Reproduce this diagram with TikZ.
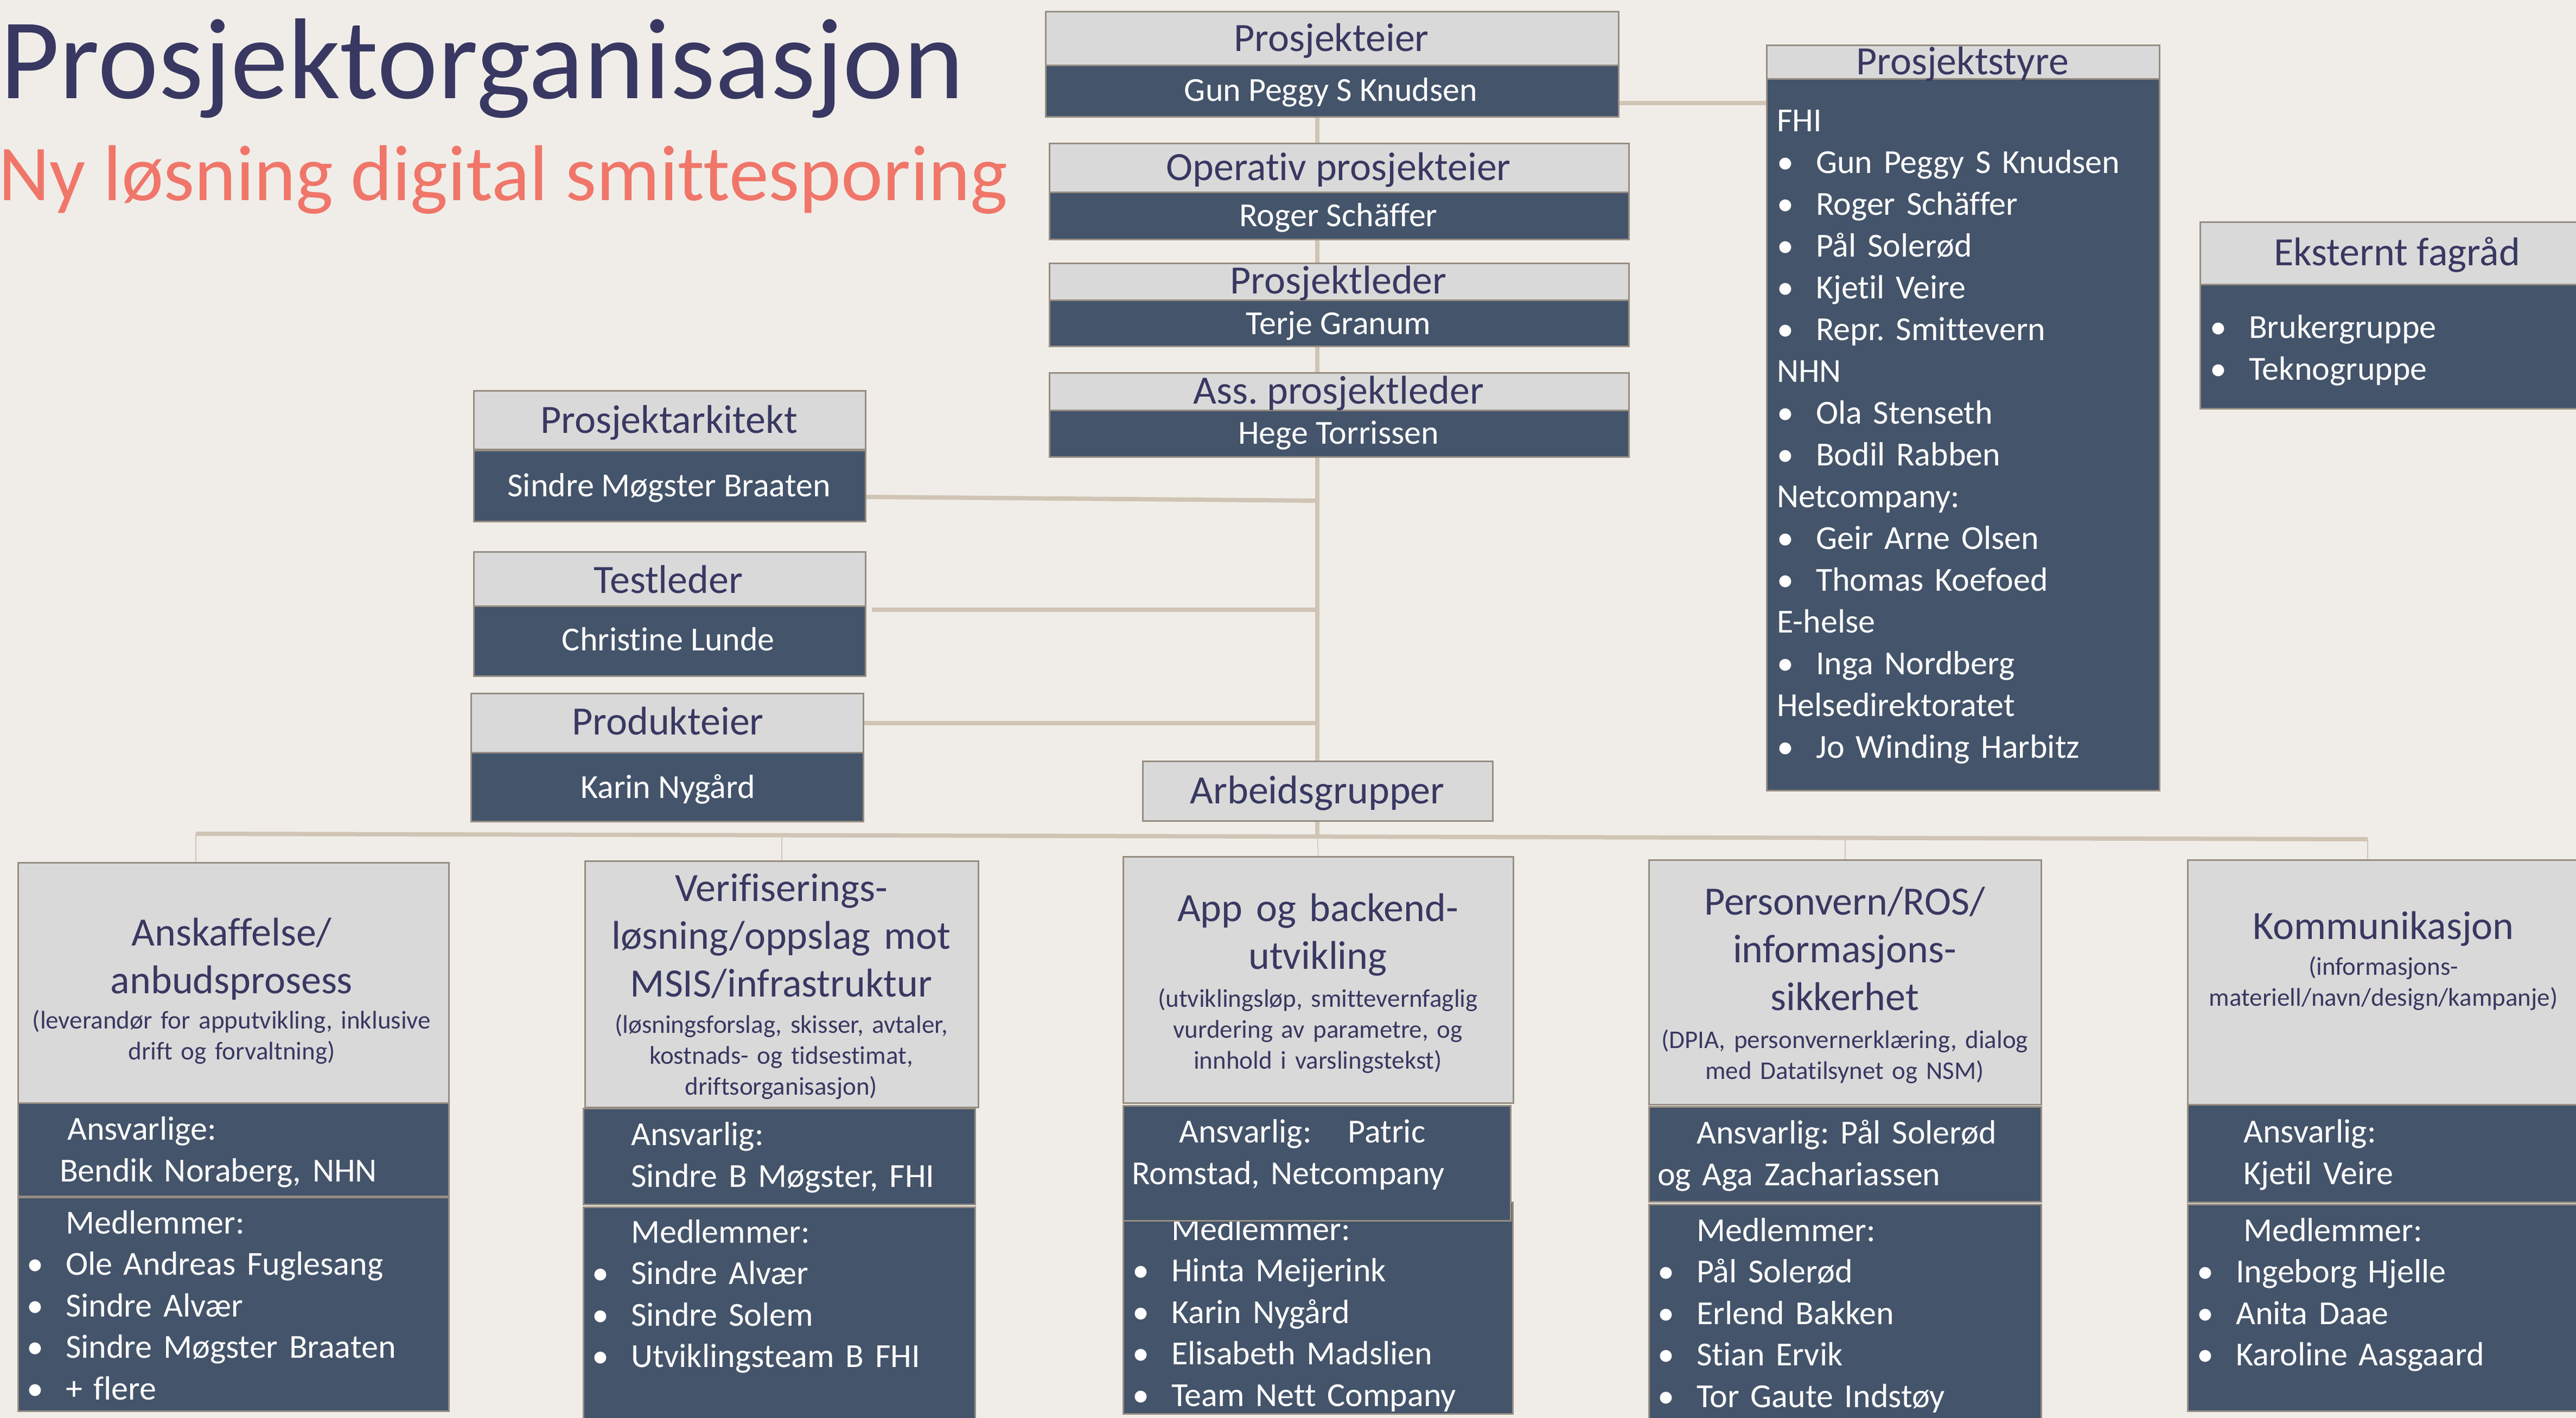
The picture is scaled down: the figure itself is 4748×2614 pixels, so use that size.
\documentclass[tikz,border=0pt]{standalone}
\usepackage{fontspec}
\setmainfont{Carlito}[Ligatures={NoCommon,NoContextual}]
\usetikzlibrary{positioning}
\definecolor{bgcol}{RGB}{240,237,232}
\definecolor{boxblue}{RGB}{68,84,106}
\definecolor{hdrgray}{RGB}{217,217,217}
\definecolor{edgegray}{RGB}{150,141,130}
\definecolor{navy}{RGB}{56,56,98}
\definecolor{salmon}{RGB}{240,118,106}
\definecolor{linktan}{RGB}{208,196,181}
\newcommand\hfont{\fontsize{74}{88}\selectfont}
\newcommand\nfont{\fontsize{62}{77}\selectfont}
\newcommand\mfont{\fontsize{62}{76.5}\selectfont}
\newcommand\sfont{\fontsize{47}{57}\selectfont}
\newcommand\bl{\makebox[72pt][l]{•}}
\frenchspacing
\pgfdeclarelayer{bg}
\pgfdeclarelayer{lines}
\pgfsetlayers{bg,lines,main}
\tikzset{x=1pt, y=-1pt,
    hdr/.style={draw=edgegray, line width=3pt, fill=hdrgray, anchor=north west, inner sep=0pt}, % light box
    body/.style={hdr, fill=boxblue}, % dark box
    htext/.style={text=navy, font=\hfont, anchor=base, inner sep=0pt},
    ntext/.style={text=white, font=\nfont, anchor=base, inner sep=0pt},
    list/.style={text=white, font=\nfont, anchor=base west, inner sep=0pt, text width=800pt, align=left},
    gtitle/.style={text=navy, font=\hfont, anchor=base, inner sep=0pt, text width=900pt, align=center},
    gsub/.style={gtitle, font=\sfont},
    link/.style={draw=linktan, line width=8pt},
    tick/.style={draw=linktan, line width=1.5pt}}

\begin{document}
\begin{tikzpicture}
    \useasboundingbox (0,0) rectangle (4748,2614);
    \begin{pgfonlayer}{bg}
        \fill[bgcol] (0,0) rectangle (4748,2614);
    \end{pgfonlayer}

    % Title
    \node[anchor=base west, inner sep=0pt, text=navy, font=\fontsize{212}{250}\selectfont] (title) at (0,182) {Prosjektorganisasjon};
    \node[anchor=base west, inner sep=0pt, text=salmon, font=\fontsize{146}{175}\selectfont] (subtitle) at (-3,369) {Ny løsning digital smittesporing};

    % Management chain
    \node[hdr, minimum width=1056pt, minimum height=99pt] (eierH) at (1926,20) {};
    \node[body, minimum width=1056pt, minimum height=95pt] (eierB) at (1926,119) {};
    \node[htext] (eierT) at (2454,95) {Prosjekteier};
    \node[ntext] (eierN) at (2453,187) {Gun Peggy S Knudsen};

    \node[hdr, minimum width=1068pt, minimum height=90pt] (opH) at (1933,263) {};
    \node[body, minimum width=1068pt, minimum height=87pt] (opB) at (1933,353) {};
    \node[htext] (opT) at (2467,332) {Operativ prosjekteier};
    \node[ntext] (opN) at (2467,417) {Roger Schäffer};

    \node[hdr, minimum width=1068pt, minimum height=68pt] (lederH) at (1933,484) {};
    \node[body, minimum width=1068pt, minimum height=85pt] (lederB) at (1933,552) {};
    \node[htext] (lederT) at (2467,541) {Prosjektleder};
    \node[ntext] (lederN) at (2467,616) {Terje Granum};

    \node[hdr, minimum width=1068pt, minimum height=69pt] (assH) at (1933,686) {};
    \node[body, minimum width=1068pt, minimum height=86pt] (assB) at (1933,755) {};
    \node[htext] (assT) at (2467,744) {Ass. prosjektleder};
    \node[ntext] (assN) at (2467,818) {Hege Torrissen};

    % Steering group and external council
    \node[hdr, minimum width=724pt, minimum height=62pt] (styreH) at (3255,82) {};
    \node[body, minimum width=724pt, minimum height=1312pt] (styreB) at (3255,144) {};
    \node[htext] (styreT) at (3617,138) {Prosjektstyre};
    \node[list] (styreL) at (3275,243) {FHI\\
        \bl Gun Peggy S Knudsen\\
        \bl Roger Schäffer\\
        \bl Pål Solerød\\
        \bl Kjetil Veire\\
        \bl Repr. Smittevern\\
        NHN\\
        \bl Ola Stenseth\\
        \bl Bodil Rabben\\
        Netcompany:\\
        \bl Geir Arne Olsen\\
        \bl Thomas Koefoed\\
        E-helse\\
        \bl Inga Nordberg\\
        Helsedirektoratet\\
        \bl Jo Winding Harbitz};

    \node[hdr, minimum width=706pt, minimum height=115pt] (fagH) at (4054,408) {};
    \node[body, minimum width=706pt, minimum height=229pt] (fagB) at (4054,523) {};
    \node[htext] (fagT) at (4418,489) {Eksternt fagråd};
    \node[list] (fagL) at (4073,623) {\bl Brukergruppe\\ \bl Teknogruppe};

    % Staff roles
    \node[hdr, minimum width=722pt, minimum height=108pt] (arkH) at (872,719) {};
    \node[body, minimum width=722pt, minimum height=131pt] (arkB) at (872,829) {};
    \node[htext] (arkT) at (1233,798) {Prosjektarkitekt};
    \node[ntext] (arkN) at (1233,915) {Sindre Møgster Braaten};

    \node[hdr, minimum width=722pt, minimum height=100pt] (testH) at (872,1016) {};
    \node[body, minimum width=722pt, minimum height=129pt] (testB) at (872,1116) {};
    \node[htext] (testT) at (1232,1093) {Testleder};
    \node[ntext] (testN) at (1232,1199) {Christine Lunde};

    \node[hdr, minimum width=723pt, minimum height=109pt] (prodH) at (867,1277) {};
    \node[body, minimum width=723pt, minimum height=127pt] (prodB) at (867,1386) {};
    \node[htext] (prodT) at (1231,1354) {Produkteier};
    \node[ntext] (prodN) at (1231,1471) {Karin Nygård};

    \node[hdr, minimum width=645pt, minimum height=110pt] (arbeid) at (2105,1402) {};
    \node[htext] (arbeidT) at (2428,1481) {Arbeidsgrupper};

    % Working groups
    \node[hdr, minimum width=794pt, minimum height=443pt] (g1H) at (32,1589) {};
    \node[body, minimum width=794pt, minimum height=172pt] (g1R) at (32,2032) {};
    \node[body, minimum width=794pt, minimum height=394pt] (g1M) at (32,2206) {};
    \node[gtitle] (g1T) at (427,1743) {Anskaffelse/\\anbudsprosess};
    \node[gsub] (g1S) at (427,1896) {(leverandør for apputvikling, inklusive\\drift og forvaltning)};
    \node[list] (g1A) at (110,2101) {\hspace*{14pt}Ansvarlige:\\Bendik Noraberg, NHN};
    \node[list, font=\mfont] (g1L) at (49,2274) {\hspace*{72pt}Medlemmer:\\
        \bl Ole Andreas Fuglesang\\
        \bl Sindre Alvær\\
        \bl Sindre Møgster Braaten\\
        \bl + flere};

    \node[hdr, minimum width=725pt, minimum height=454pt] (g2H) at (1077,1586) {};
    \node[body, minimum width=722pt, minimum height=177pt] (g2R) at (1074,2042) {};
    \node[body, minimum width=722pt, minimum height=406pt] (g2M) at (1074,2224) {};
    \node[gtitle] (g2T) at (1440,1661) {Verifiserings-\\løsning/oppslag mot\\MSIS/infrastruktur};
    \node[gsub] (g2S) at (1440,1904) {(løsningsforslag, skisser, avtaler,\\kostnads- og tidsestimat,\\driftsorganisasjon)};
    \node[list] (g2A) at (1163,2111) {Ansvarlig:\\Sindre B Møgster, FHI};
    \node[list, font=\mfont] (g2L) at (1091,2291) {\hspace*{72pt}Medlemmer:\\
        \bl Sindre Alvær\\
        \bl Sindre Solem\\
        \bl Utviklingsteam B FHI};

    \node[hdr, minimum width=719pt, minimum height=454pt] (g3H) at (2069,1578) {};
    \node[body, minimum width=718pt, minimum height=390pt] (g3M) at (2069,2215) {};
    \node[list, font=\mfont] (g3L) at (2087,2286) {\hspace*{72pt}Medlemmer:\\
        \bl Hinta Meijerink\\
        \bl Karin Nygård\\
        \bl Elisabeth Madslien\\
        \bl Team Nett Company};
    \node[body, minimum width=714pt, minimum height=212pt] (g3R) at (2069,2037) {};
    \node[gtitle] (g3T) at (2429,1698) {App og backend-\\utvikling};
    \node[gsub] (g3S) at (2429,1856) {(utviklingsløp, smittevernfaglig\\vurdering av parametre, og\\innhold i varslingstekst)};
    \node[list] (g3A) at (2086,2106) {\hspace*{87pt}Ansvarlig:\hspace*{67pt}Patric\\Romstad, Netcompany};

    \node[hdr, minimum width=723pt, minimum height=451pt] (g4H) at (3038,1584) {};
    \node[body, minimum width=723pt, minimum height=175pt] (g4R) at (3038,2039) {};
    \node[body, minimum width=723pt, minimum height=411pt] (g4M) at (3038,2219) {};
    \node[gtitle] (g4T) at (3400,1686) {Personvern/ROS/\\informasjons-\\sikkerhet};
    \node[gsub] (g4S) at (3400,1932) {(DPIA, personvernerklæring, dialog\\med Datatilsynet og NSM)};
    \node[list] (g4A) at (3055,2108) {\hspace*{72pt}Ansvarlig: Pål Solerød\\og Aga Zachariassen};
    \node[list, font=\mfont] (g4L) at (3055,2288) {\hspace*{72pt}Medlemmer:\\
        \bl Pål Solerød\\
        \bl Erlend Bakken\\
        \bl Stian Ervik\\
        \bl Tor Gaute Indstøy};

    \node[hdr, minimum width=729pt, minimum height=451pt] (g5H) at (4031,1584) {};
    \node[body, minimum width=729pt, minimum height=180pt] (g5R) at (4031,2035) {};
    \node[body, minimum width=729pt, minimum height=381pt] (g5M) at (4031,2219) {};
    \node[gtitle] (g5T) at (4393,1731) {Kommunikasjon};
    \node[gsub] (g5S) at (4393,1797) {(informasjons-\\materiell/navn/design/kampanje)};
    \node[list] (g5A) at (4135,2106) {Ansvarlig:\\Kjetil Veire};
    \node[list, font=\mfont] (g5L) at (4049,2288) {\hspace*{86pt}Medlemmer:\\
        \bl Ingeborg Hjelle\\
        \bl Anita Daae\\
        \bl Karoline Aasgaard};

    % Connectors
    \coordinate (busL) at (361,1537);
    \coordinate (busR) at (4364,1547);
    \coordinate (busM) at (2428,1542);
    \begin{pgfonlayer}{lines}
        \draw[link] (eierB.south -| busM) -- (busM);
        \draw[link] ([yshift=-22pt]eierB.east) -- ([yshift=-22pt]eierB.east -| styreB.west);
        \draw[link] ([yshift=-20pt]arkB.east) -- ([yshift=-27pt]arkB.east -| busM);
        \draw[link] ([xshift=10pt,yshift=-8pt]testB.north east) -- ([yshift=-8pt]testB.north east -| busM);
        \draw[link] (prodH.east) -- (prodH.east -| busM);
        \draw[link] (busL) -- (busR);
        \draw[tick] (busL) -- (busL |- g1H.north);
        \draw[tick] (g2H.north |- busL) -- (g2H.north);
        \draw[tick] (busM) -- (g3H.north);
        \draw[tick] (g4H.north |- busR) -- (g4H.north);
        \draw[tick] (busR) -- (busR |- g5H.north);
    \end{pgfonlayer}
\end{tikzpicture}
\end{document}
